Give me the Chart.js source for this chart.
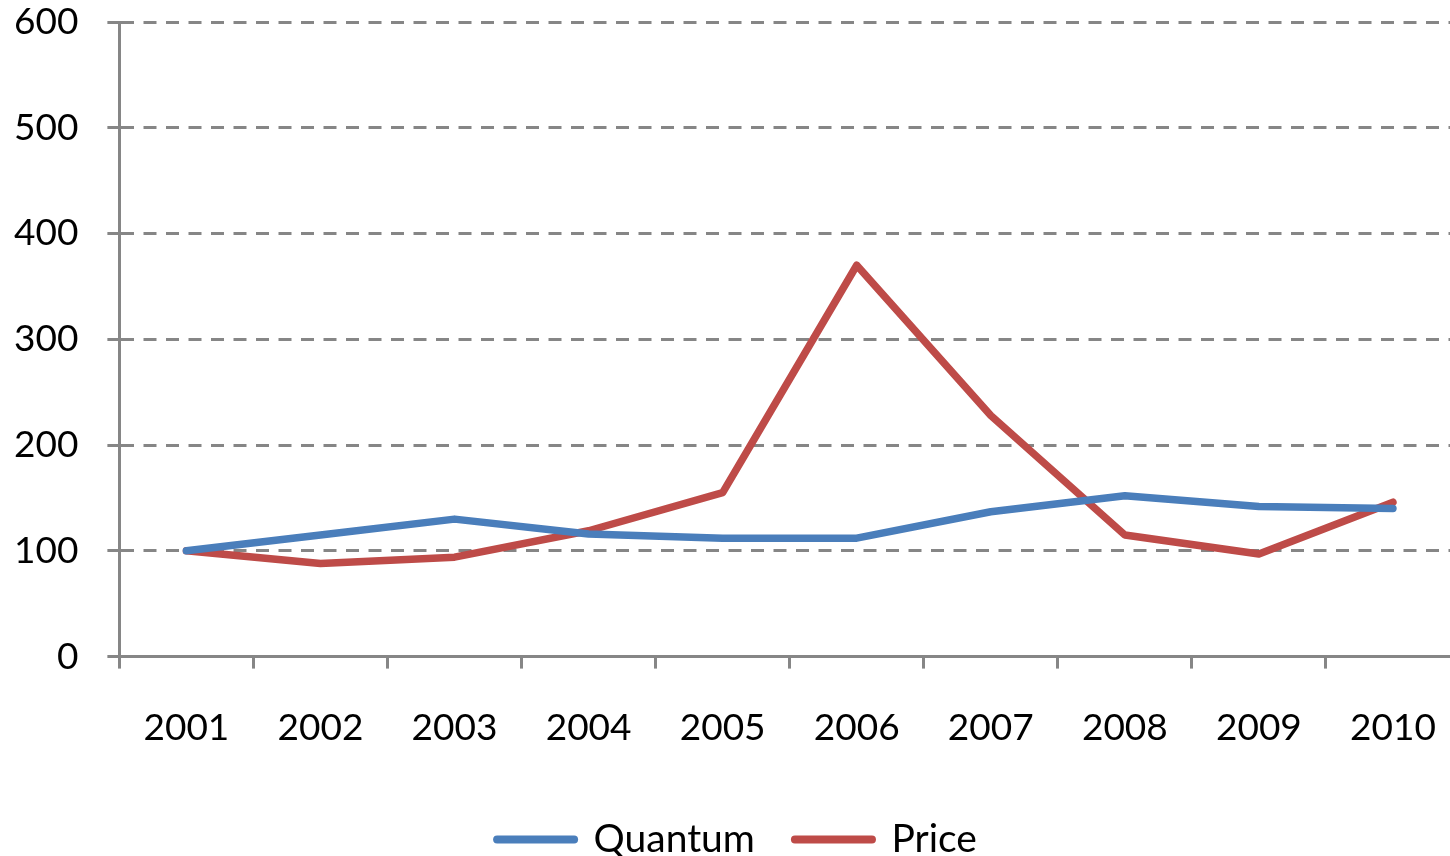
<!DOCTYPE html>
<html>
<head>
<meta charset="utf-8">
<script src="https://cdn.jsdelivr.net/npm/chart.js@4/dist/chart.umd.min.js"></script>
<style>
  html, body { margin: 0; padding: 0; background: #ffffff; overflow: hidden; }
  #wrap { width: 1450px; height: 856px; overflow: hidden; position: relative; }
  canvas { display: block; }
</style>
</head>
<body>
<div id="wrap"><canvas id="chart" width="1462" height="856"></canvas></div>
<script>
// Yearly index values (2001 = 100)
const years = ['2001', '2002', '2003', '2004', '2005', '2006', '2007', '2008', '2009', '2010'];
const quantum = [100, 115, 130, 116, 112, 112, 137, 152, 142, 140];
const price = [100, 88, 94, 119, 155, 370, 228, 115, 97, 146];
const yTicks = [0, 100, 200, 300, 400, 500, 600];

const AXIS_GREY = '#868686';
const FONT = { family: 'Lato, "Open Sans", sans-serif', size: 37 };
const LEGEND_FONT = { family: 'Lato, "Open Sans", sans-serif', size: 39 };

new Chart(document.getElementById('chart'), {
  type: 'line',
  data: {
    labels: years,
    datasets: [
      {
        label: 'Quantum',
        data: quantum,
        borderColor: '#4A7EBB',
        backgroundColor: '#4A7EBB',
        borderWidth: 7.5,
        borderCapStyle: 'round',
        borderJoinStyle: 'round',
        pointRadius: 0,
        tension: 0
      },
      {
        label: 'Price',
        data: price,
        borderColor: '#BE4B48',
        backgroundColor: '#BE4B48',
        borderWidth: 7.5,
        borderCapStyle: 'round',
        borderJoinStyle: 'round',
        pointRadius: 0,
        tension: 0
      }
    ]
  },
  options: {
    responsive: false,
    animation: false,
    layout: { padding: { left: 14, right: 2, top: 0, bottom: -13 } },
    plugins: {
      tooltip: { enabled: false },
      legend: {
        position: 'bottom',
        labels: {
          usePointStyle: true,
          pointStyle: 'line',
          pointStyleWidth: 77,
          padding: 40,
          color: '#000000',
          font: LEGEND_FONT,
          // thick, round-ended line swatches
          generateLabels(chart) {
            return Chart.defaults.plugins.legend.labels.generateLabels(chart).map(item => ({
              ...item,
              lineWidth: 8,
              lineCap: 'round',
              strokeStyle: chart.data.datasets[item.datasetIndex].borderColor
            }));
          }
        }
      }
    },
    scales: {
      x: {
        offset: true,
        grid: {
          offset: true,
          drawOnChartArea: false,
          drawTicks: true,
          tickLength: 12,
          tickColor: AXIS_GREY,
          tickWidth: 3,
          color: AXIS_GREY
        },
        border: { display: true, color: AXIS_GREY, width: 3 },
        ticks: {
          color: '#000000',
          font: FONT,
          padding: 37,
          maxRotation: 0,
          autoSkip: false
        },
        afterFit(scale) {
          scale.height -= 7;
          scale.paddingLeft = 0;
          scale.paddingRight = 0;
        }
      },
      y: {
        min: 0,
        max: 600,
        afterBuildTicks(scale) { scale.ticks = yTicks.map(v => ({ value: v })); },
        afterFit(scale) {
          scale.width -= 29;
          scale.paddingTop = 22;
          scale.paddingBottom = 0;
        },
        grid: {
          color: AXIS_GREY,
          lineWidth: 3,
          drawTicks: true,
          tickLength: 12,
          tickColor: AXIS_GREY,
          tickWidth: 3,
          tickBorderDash: []
        },
        border: { display: true, color: AXIS_GREY, width: 3, dash: [13, 9.5] },
        ticks: {
          color: '#000000',
          font: FONT,
          padding: 29
        }
      }
    }
  }
});
</script>
</body>
</html>
